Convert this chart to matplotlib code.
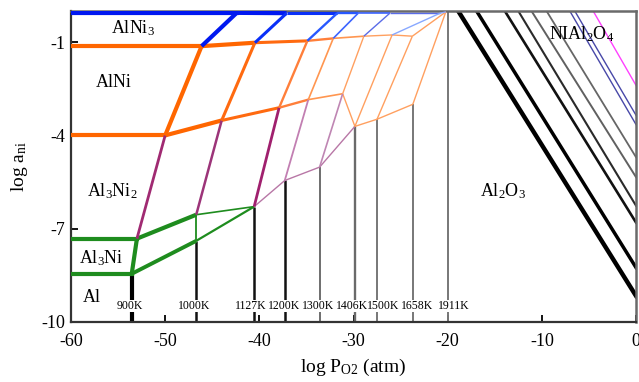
import matplotlib
matplotlib.use("Agg")
import matplotlib.pyplot as plt
import numpy as np

nan = np.nan

plt.rcParams['font.family'] = ['Liberation Serif', 'DejaVu Serif']
plt.rcParams['mathtext.fontset'] = 'custom'
plt.rcParams['mathtext.rm'] = 'Liberation Serif'
plt.rcParams['mathtext.it'] = 'Liberation Serif:italic'
plt.rcParams['axes.unicode_minus'] = False

# temperatures and the log PO2 where Al2O3 forms from the Al-rich side
temps = [900, 1000, 1127, 1200, 1300, 1406, 1500, 1658, 1911]
x_ox = [-53.55, -46.7, -40.55, -37.3, -33.6, -29.85, -27.5, -23.7, -20.0]
# where each temperature label sits along the bottom
x_lab = [-53.8, -46.9, -40.9, -37.4, -33.8, -30.2, -26.8, -23.3, -19.3]

# triple points along the Al2O3 boundary, one entry per temperature
p1_x = [-53.55, -46.7, -40.55, nan, nan, nan, nan, nan, nan]      # Al / Al3Ni
p1_y = [-8.45, -7.39, -6.29, nan, nan, nan, nan, nan, nan]
p2_x = [-53.0, -46.7, -40.55, -37.3, -33.6, -29.85, nan, nan, nan]  # Al3Ni / Al3Ni2
p2_y = [-7.32, -6.55, -6.29, -5.45, -5.02, -3.71, nan, nan, nan]
p3_x = [-50.0, -44.0, -37.9, -34.8, -31.15, -29.85, -27.5, -23.7, -20.2]  # Al3Ni2 / AlNi
p3_y = [-4.0, -3.52, -3.11, -2.85, -2.66, -3.71, -3.48, -3.0, -0.03]
p4_x = [-46.13, -40.47, -34.9, -32.15, -28.9, -25.9, -23.75, nan, -20.2]  # AlNi / AlNi3
p4_y = [-1.13, -1.02, -0.96, -0.88, -0.81, -0.77, -0.81, nan, -0.03]
p5_x = [-42.4, -37.1, -31.73, -29.5, -26.14, -20.8, nan, nan, -20.2]     # AlNi3 / Ni
p5_y = [-0.06, -0.07, -0.07, -0.07, -0.07, -0.07, nan, nan, -0.03]

# Al2O3 / NiAl2O4 lines: log PO2 at the top edge, log a_Ni at the right edge
sp_x_top = [-18.88, -16.93, -13.93, -12.5, -11.1, -9.5, -7.03, -6.5, -4.55]
sp_y_right = [-9.16, -8.25, -6.8, -6.26, -5.34, -4.7, -3.65, -3.35, -2.39]

# styles per temperature
lw_t = [3.0, 2.2, 1.7, 1.2, 1.0, 1.0, 1.0, 1.0, 1.0]
green = ['#1e8c1e', '#1e8c1e', '#1e8c1e']
purple = ['#a02a72', '#9c3479', '#a0206e', '#c27fb2', '#bf86b3', '#bf86b3']
orange = ['#ff6600', '#ff6a10', '#ff7f3a', '#ff9650', '#ffa060', '#ffa060',
          '#ffa060', '#ffa060', '#ffa060']
blue = ['#0018f0', '#0a30f8', '#2858ff', '#3c64ff', '#5a6ce8', '#88a8ff',
        '#88a8ff', '#88a8ff', '#88a8ff']
v_col = ['#000000', '#111111', '#111111', '#111111', '#6e6e6e', '#6a6a6a',
         '#777777', '#777777', '#777777']
v_lw = [3.0, 1.8, 1.8, 1.8, 1.4, 1.7, 1.4, 1.4, 1.4]
sp_col = ['#000000', '#000000', '#111111', '#2a2a2a', '#606060', '#666666',
          '#4848a8', '#4848a8', '#ff40ff']
sp_lw = [3.2, 2.5, 1.9, 1.5, 1.4, 1.3, 1.0, 1.0, 1.0]

fig = plt.figure(figsize=(6.39, 3.82), dpi=100)
ax = fig.add_axes([71 / 639, 60 / 382, 565 / 639, 311 / 382])
ax.set_xlim(-60, 0)
ax.set_ylim(-10, 0)


def seg(x0, y0, x1, y1, c, lw, z=3):
    if np.isnan([x0, y0, x1, y1]).any():
        return
    ax.plot([x0, x1], [y0, y1], color=c, lw=lw, solid_capstyle='butt', zorder=z)


# 900K boundaries run across to the left edge
ax.plot([-60, p1_x[0]], [p1_y[0]] * 2, color=green[0], lw=3.0, zorder=3)
ax.plot([-60, p2_x[0]], [p2_y[0]] * 2, color=green[0], lw=3.0, zorder=3)
ax.plot([-60, p3_x[0]], [p3_y[0]] * 2, color=orange[0], lw=3.0, zorder=3)
ax.plot([-60, p4_x[0]], [p4_y[0]] * 2, color=orange[0], lw=3.0, zorder=3)
ax.plot([-60, p5_x[0]], [p5_y[0]] * 2, color=blue[0], lw=3.0, zorder=3)

# lines joining the same triple point from one temperature to the next
for xs, ys, cols in [(p1_x, p1_y, green), (p2_x, p2_y, None),
                     (p3_x, p3_y, orange), (p4_x, p4_y, orange),
                     (p5_x, p5_y, blue)]:
    idx = [i for i in range(len(temps)) if not np.isnan(xs[i])]
    for a, b in zip(idx[:-1], idx[1:]):
        if cols is None:
            c = green[a] if a < 2 else '#b877a6'
            lw = [3.0, 1.2][min(a, 1)] if a < 2 else 1.0
        else:
            c = cols[a]
            lw = lw_t[a] if a > 0 else 3.0
        if cols is green:
            lw = [2.8, 1.6][a]
        seg(xs[a], ys[a], xs[b], ys[b], c, lw)

# Al2O3 boundary at each temperature
for i, t in enumerate(temps):
    lows = [y for y in (p1_y[i], p2_y[i], p3_y[i]) if not np.isnan(y)]
    top = lows[0] if t != 1911 else 0
    ax.plot([x_ox[i], x_ox[i]], [-10, top], color=v_col[i], lw=v_lw[i],
            solid_capstyle='butt', zorder=2)
    ax.text(x_lab[i], -9.48, '%dK' % t, fontsize=8.5, ha='center', va='center',
            zorder=5, bbox=dict(facecolor='white', edgecolor='none', pad=0.2))
    if t == 1911:
        continue
    seg(p1_x[i], p1_y[i], p2_x[i], p2_y[i], green[min(i, 2)], [3.0, 1.3, 1.3][min(i, 2)])
    if i < len(purple):
        seg(p2_x[i], p2_y[i], p3_x[i], p3_y[i], purple[i], [2.0, 1.8, 2.0, 1.3, 1.2, 1.2][i])
    seg(p3_x[i], p3_y[i], p4_x[i], p4_y[i], orange[i], lw_t[i])
    seg(p4_x[i], p4_y[i], p5_x[i], p5_y[i], blue[i], lw_t[i])

# NiAl2O4 formation lines
for x0, y1, c, lw in zip(sp_x_top, sp_y_right, sp_col, sp_lw):
    ax.plot([x0, 0], [0, y1], color=c, lw=lw, zorder=2)

# phase field labels
fs = 13
ax.text(-53.4, -0.55, r'AlNi$_3$', fontsize=fs, ha='center', va='center', zorder=6)
ax.text(-55.5, -2.3, 'AlNi', fontsize=fs, ha='center', va='center', zorder=6)
ax.text(-55.6, -5.8, r'Al$_3$Ni$_2$', fontsize=fs, ha='center', va='center', zorder=6)
ax.text(-56.8, -7.95, r'Al$_3$Ni', fontsize=fs, ha='center', va='center', zorder=6)
ax.text(-57.8, -9.2, 'Al', fontsize=fs, ha='center', va='center', zorder=6)
ax.text(-14.1, -5.8, r'Al$_2$O$_3$', fontsize=fs, ha='center', va='center', zorder=6)
ax.text(-5.75, -0.75, r'NIAl$_2$O$_4$', fontsize=fs, ha='center', va='center', zorder=6)

ax.set_xticks(np.arange(-60, 1, 10))
ax.set_yticks([-1, -4, -7, -10])
ax.tick_params(direction='in', length=5, width=1.3, labelsize=13)
ax.tick_params(axis='x', pad=8)
ax.tick_params(axis='y', pad=4)
ax.set_xlabel(r'log P$_{\rm O2}$ (atm)', fontsize=14, labelpad=5)
ax.set_ylabel(r'log a$_{\rm ni}$', fontsize=14, labelpad=8)

for s in ['left', 'bottom']:
    ax.spines[s].set_color('#333333')
    ax.spines[s].set_linewidth(1.6)
for s in ['top', 'right']:
    ax.spines[s].set_color('#6a6a6a')
    ax.spines[s].set_linewidth(1.8)

fig.savefig('out.png', dpi=100)
